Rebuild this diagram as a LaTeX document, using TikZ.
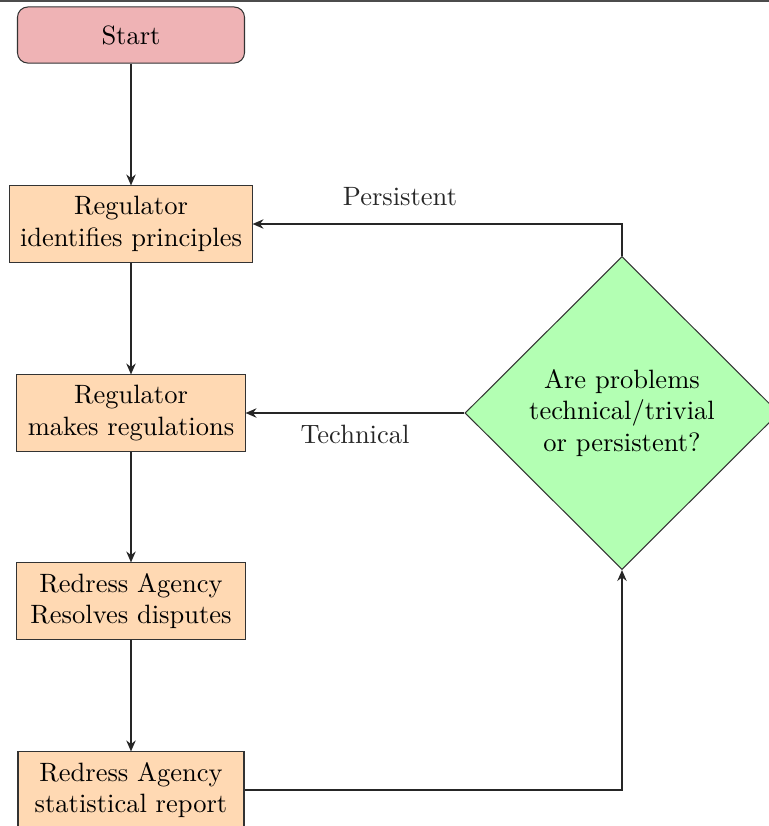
\documentclass[tikz,border=0pt]{standalone}
\usetikzlibrary{shapes.geometric,arrows.meta}
\definecolor{startpink}{RGB}{239,179,181}
\definecolor{boxpeach}{RGB}{255,217,179}
\definecolor{diagreen}{RGB}{179,255,179}
\begin{document}
\begin{tikzpicture}[x=0.385pt,y=-0.385pt,
  every node/.style={font=\fontsize{10.2pt}{12.2pt}\selectfont},
  startbox/.style={draw=black!80, thin, fill=startpink, rounded corners=4pt, minimum width=87.4pt, minimum height=21.6pt, inner sep=0pt},
  procbox/.style={draw=black!80, thin, fill=boxpeach, minimum height=29.3pt, inner sep=0pt, align=center},
  decision/.style={diamond, draw=black!80, thin, fill=diagreen, minimum width=120.9pt, minimum height=120.5pt, inner sep=0pt, align=center},
  conn/.style={draw=black!85, line width=0.75pt, -{Stealth[length=4.2pt,width=3.6pt]}},
  lbl/.style={text=black!85}
]
\useasboundingbox (0,0) rectangle (769,826);
\clip (0,0) rectangle (769,826);
\draw[black!70, line width=0.8pt] (0,0.5) -- (769,0.5);
\node[startbox] (start) at (131,35) {Start};
\node[procbox, minimum width=93.2pt] (b1) at (131,224) {Regulator\\identifies principles};
\node[procbox, minimum width=87.8pt] (b2) at (131,413) {Regulator\\makes regulations};
\node[procbox, minimum width=87.8pt] (b3) at (131,601) {Redress Agency\\Resolves disputes};
\node[procbox, minimum width=87pt] (b4) at (131,790) {Redress Agency\\statistical report};
\node[decision] (d) at (622,413) {Are problems\\technical/trivial\\or persistent?};
\coordinate (pc) at (622,224);
\coordinate (bc) at (622,790);
\draw[conn] (start) -- (b1);
\draw[conn] (b1) -- (b2);
\draw[conn] (b2) -- (b3);
\draw[conn] (b3) -- (b4);
\draw[conn] (b4.east) -- (bc) -- (d.south);
\draw[conn] (d.west) -- (b2.east);
\draw[conn] (d.north) -- (pc) -- (b1.east);
\node[lbl] (lp) at (400,197) {Persistent};
\node[lbl] (lt) at (355,434) {Technical};
\end{tikzpicture}
\end{document}
